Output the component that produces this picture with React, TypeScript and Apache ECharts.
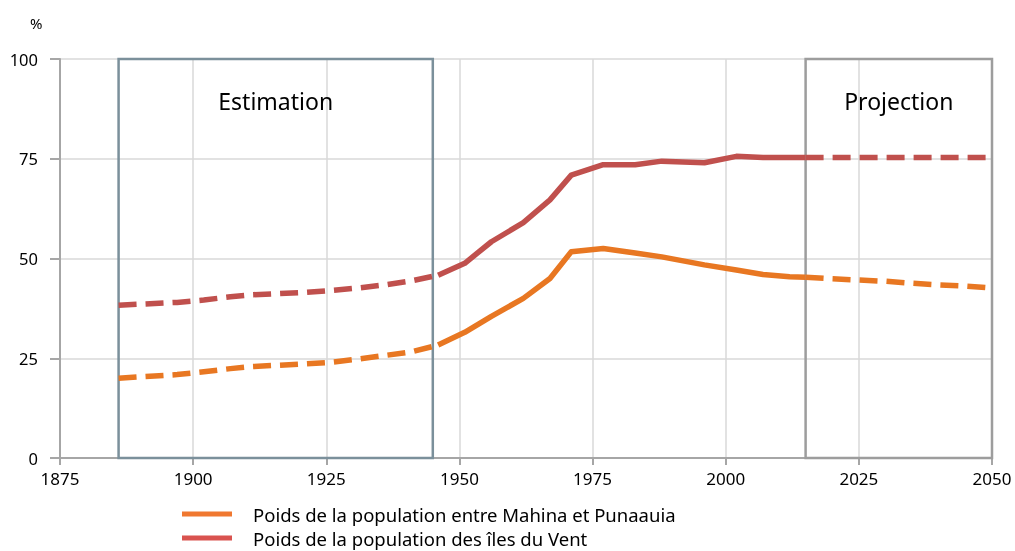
import React, { useEffect, useRef } from "react";
import * as echarts from "echarts";

// Years and values
const estYears = [1886, 1897, 1902, 1907, 1911, 1921, 1926, 1931, 1936, 1941, 1946];
const estVent = [38.3, 39.0, 39.6, 40.4, 40.9, 41.5, 42.0, 42.6, 43.4, 44.4, 45.8];
const estMahina = [20.0, 20.9, 21.6, 22.4, 22.9, 23.6, 24.0, 24.8, 25.7, 26.6, 28.3];

const obsYears = [1946, 1951, 1956, 1962, 1967, 1971, 1977, 1983, 1988, 1996, 2002, 2007, 2012, 2015];
const obsVent = [45.8, 48.8, 54.2, 59.0, 64.7, 70.9, 73.5, 73.5, 74.4, 74.0, 75.6, 75.3, 75.3, 75.3];
const obsMahina = [28.3, 31.5, 35.5, 40.0, 45.0, 51.7, 52.5, 51.4, 50.4, 48.4, 47.1, 46.0, 45.4, 45.3];

const projYears = [2015, 2020, 2025, 2030, 2035, 2040, 2045, 2050];
const projVent = [75.3, 75.3, 75.3, 75.3, 75.3, 75.3, 75.3, 75.3];
const projMahina = [45.3, 44.9, 44.6, 44.3, 43.8, 43.4, 43.1, 42.6];

const estimationRange = [1886, 1945];
const projectionRange = [2015, 2050];

const nameMahina = "Poids de la population entre Mahina et Punaauia";
const nameVent = "Poids de la population des îles du Vent";

const ORANGE = "#E87722";
const RED = "#C0504D";
const FONT = "Noto Sans";

const pairs = (xs: number[], ys: number[]) => xs.map((x, i) => [x, ys[i]]);

export default function App() {
  const ref = useRef<HTMLDivElement>(null);
  useEffect(() => {
    if (!ref.current) return;
    const chart = echarts.init(ref.current, null, { renderer: "svg" });
    const dash = [18, 9];
    const mk = (name: string, data: number[][], color: string, type: any) => ({
      name,
      type: "line",
      data,
      symbol: "none",
      lineStyle: { color, width: 5.5, type, cap: "butt", join: "round" },
      itemStyle: { color },
      z: 3,
    });
    const legendIcon = "path://M0,0L50,0L50,5L0,5Z";
    chart.setOption({
      animation: false,
      textStyle: { fontFamily: FONT },
      title: {
        text: "%",
        left: 25,
        top: 10,
        textStyle: { fontSize: 15, fontWeight: "normal", color: "#000", fontFamily: FONT },
      },
      grid: { left: 60, right: 23, top: 59, bottom: 93, containLabel: false },
      legend: {
        orient: "vertical",
        left: 182,
        top: 504,
        itemWidth: 50,
        itemHeight: 5,
        itemGap: 4,
        padding: 0,
        icon: legendIcon,
        itemStyle: { borderWidth: 0 },
        textStyle: {
          fontSize: 18.5,
          lineHeight: 20,
          color: "#000",
          fontFamily: FONT,
          padding: [0, 0, 0, 16],
        },
        data: [
          { name: nameMahina, icon: legendIcon, itemStyle: { color: "#F07830", borderWidth: 0 } },
          { name: nameVent, icon: legendIcon, itemStyle: { color: "#D9534F", borderWidth: 0 } },
        ],
      },
      xAxis: {
        type: "value",
        min: 1875,
        max: 2050,
        interval: 25,
        axisLine: { show: true, onZero: false, lineStyle: { color: "#a6a6a6", width: 2 } },
        axisTick: { show: true, length: 7, lineStyle: { color: "#a6a6a6", width: 2 } },
        axisLabel: {
          color: "#000",
          fontSize: 17,
          margin: 12,
          fontFamily: FONT,
          formatter: (v: number) => String(v),
        },
        splitLine: { show: true, lineStyle: { color: "#d9d9d9", width: 1.5 } },
      },
      yAxis: {
        type: "value",
        min: 0,
        max: 100,
        interval: 25,
        axisLine: { show: true, lineStyle: { color: "#a6a6a6", width: 2 } },
        axisTick: { show: true, length: 10, lineStyle: { color: "#a6a6a6", width: 2 } },
        axisLabel: { color: "#000", fontSize: 16.5, margin: 22, fontFamily: FONT },
        splitLine: { show: true, lineStyle: { color: "#d9d9d9", width: 1.5 } },
      },
      series: [
        {
          name: "boxes",
          type: "line",
          data: [],
          z: 2,
          markArea: {
            silent: true,
            data: [
              [
                {
                  xAxis: estimationRange[0],
                  yAxis: 100,
                  itemStyle: { color: "rgba(0,0,0,0)", borderColor: "#7B909B", borderWidth: 2.5 },
                  label: { show: true, formatter: "Estimation" },
                },
                { xAxis: estimationRange[1], yAxis: 0 },
              ],
              [
                {
                  xAxis: projectionRange[0],
                  yAxis: 100,
                  itemStyle: { color: "rgba(0,0,0,0)", borderColor: "#9d9d9d", borderWidth: 2.5 },
                  label: { show: true, formatter: "Projection" },
                },
                { xAxis: projectionRange[1], yAxis: 0 },
              ],
            ],
            label: {
              position: "insideTop",
              distance: 32,
              color: "#000",
              fontSize: 23,
              fontFamily: FONT,
            },
          },
        },
        mk(nameVent + " (estimation)", pairs(estYears, estVent), RED, dash),
        mk(nameVent, pairs(obsYears, obsVent), RED, "solid"),
        mk(nameVent + " (projection)", pairs(projYears, projVent), RED, dash),
        mk(nameMahina + " (estimation)", pairs(estYears, estMahina), ORANGE, dash),
        mk(nameMahina, pairs(obsYears, obsMahina), ORANGE, "solid"),
        mk(nameMahina + " (projection)", pairs(projYears, projMahina), ORANGE, dash),
      ],
    });
    return () => chart.dispose();
  }, []);
  return (
    <div
      ref={ref}
      style={{ position: "fixed", left: 0, top: 0, width: 1015, height: 551 }}
    />
  );
}
